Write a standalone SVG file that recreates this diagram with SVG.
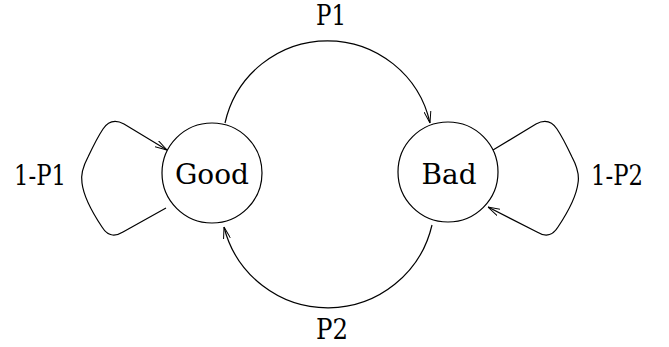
<svg xmlns="http://www.w3.org/2000/svg" width="669" height="347" viewBox="0 0 669 347">
<style>
.node{fill:#fff;stroke:#000;stroke-width:1.2}
.edge{fill:none;stroke:#000;stroke-width:1.2}
.lbl{font-family:"DejaVu Serif",serif;font-size:28px;fill:#000;text-anchor:middle}
</style>
<defs>
<marker id="arr" viewBox="0 0 12 8" refX="12" refY="4" markerWidth="12" markerHeight="8" markerUnits="userSpaceOnUse" orient="auto">
<path d="M0,0.5 L12,4 L0,7.5" fill="none" stroke="#000" stroke-width="1"/>
</marker>
</defs>
<rect width="669" height="347" fill="#fff"/>
<g id="connectors">
<path class="edge" d="M225,123 A105,105 0 0 1 430,123" marker-end="url(#arr)"/>
<path class="edge" d="M432,225 A107,107 0 0 1 224,227" marker-end="url(#arr)"/>
<path class="edge" d="M166,208 L123,232 Q110,240 102,227 Q84,200 82,183 Q80,172 88,157 Q97,138 103,129 Q111,117 124,124 L167,150" marker-end="url(#arr)"/>
<path class="edge" d="M493,150 L536,124 Q549,117 557,129 Q563,138 572,157 Q580,172 578,183 Q576,200 558,227 Q550,240 537,232 L488,207" marker-end="url(#arr)"/>
<text class="lbl" x="331" y="25" font-size="27" style="font-size:27px" textLength="30" lengthAdjust="spacingAndGlyphs">P1</text>
<text class="lbl" x="332" y="339" textLength="32" lengthAdjust="spacingAndGlyphs">P2</text>
<text class="lbl" x="40" y="185" textLength="52" lengthAdjust="spacingAndGlyphs">1-P1</text>
<text class="lbl" x="617" y="185" textLength="52" lengthAdjust="spacingAndGlyphs">1-P2</text>
</g>
<g id="good">
<circle class="node" cx="212" cy="173" r="50"/>
<text class="lbl" x="212" y="184" textLength="74" lengthAdjust="spacingAndGlyphs">Good</text>
</g>
<g id="bad">
<circle class="node" cx="448" cy="172" r="50"/>
<text class="lbl" x="449" y="184" textLength="55" lengthAdjust="spacingAndGlyphs">Bad</text>
</g>
</svg>
